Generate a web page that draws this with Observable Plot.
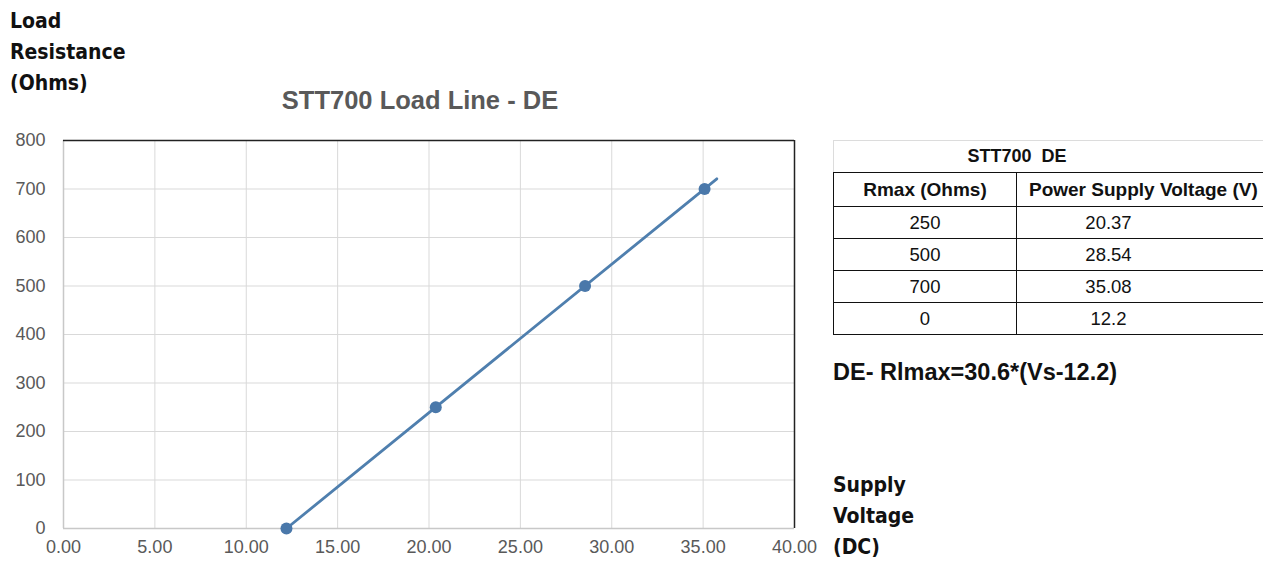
<!DOCTYPE html>
<html>
<head>
<meta charset="utf-8">
<script src="https://cdn.jsdelivr.net/npm/d3@7"></script>
<script src="https://cdn.jsdelivr.net/npm/@observablehq/plot@0.6"></script>
<style>
  html, body { margin: 0; padding: 0; background: #fff; }
  #wrap { position: relative; width: 1263px; height: 561px; overflow: hidden; }
  #chart { position: absolute; left: 0; top: 0; }
  .lbl { position: absolute; font-family: "DejaVu Sans Condensed", "DejaVu Sans", Verdana, sans-serif; font-stretch: condensed; font-weight: bold; font-size: 21px; line-height: 31px; color: #111; }
  #title { position: absolute; left: 0; width: 830px; text-align: center; top: 85px; font-family: "Liberation Sans", Arial, sans-serif; font-weight: bold; font-size: 25.5px; line-height: 30px; color: #595959; padding-left: 10px; box-sizing: border-box; }
  #tbl { position: absolute; left: 833px; top: 140px; border-collapse: collapse; table-layout: fixed; width: 443px; font-family: "Liberation Sans", Arial, sans-serif; font-size: 18.5px; color: #111; }
  #tbl td { text-align: center; padding: 0; white-space: nowrap; overflow: visible; }
  #tbl .cap td { border: 1px solid #dcdcdc; border-bottom: 1px solid #111; height: 31px; font-weight: bold; font-size: 18px; padding-right: 76px; }
  #tbl .row td { border: 1px solid #111; height: 31px; }
  #tbl .row td.c2 { padding-right: 76px; }
  #tbl .hdr td { font-weight: bold; font-size: 19px; height: 33px; }
  #tbl .hdr td.c2 { text-align: left; padding-left: 12px; padding-right: 0; }
  #eq { position: absolute; left: 833px; top: 358px; font-family: "Liberation Sans", Arial, sans-serif; font-weight: bold; font-size: 23.5px; line-height: 28px; color: #111; }
</style>
</head>
<body>
<div id="wrap">
  <div id="chart"></div>
  <div class="lbl" style="left:10px; top:6px;">Load<br>Resistance<br>(Ohms)</div>
  <div id="title"></div>
  <table id="tbl"></table>
  <div id="eq"></div>
  <div class="lbl" style="left:833px; top:470px;">Supply<br>Voltage<br>(DC)</div>
</div>
<script>
// Data
const resistance = [0, 250, 500, 700];          // Ohms
const voltage = [12.2, 20.37, 28.54, 35.08];    // V
const lineVoltage = [12.2, 35.75];              // drawn load line extent
const lineResistance = [0, 721];
const xTicks = [0, 5, 10, 15, 20, 25, 30, 35, 40];
const yTicks = [0, 100, 200, 300, 400, 500, 600, 700, 800];
const tableTitle = "STT700  DE";
const tableHeaders = ["Rmax (Ohms)", "Power Supply Voltage (V)"];
const tableR = [250, 500, 700, 0];
const tableV = ["20.37", "28.54", "35.08", "12.2"];
const chartTitle = "STT700 Load Line - DE";
const equation = "DE- Rlmax=30.6*(Vs-12.2)";

const points = resistance.map((r, i) => ({v: voltage[i], r}));
const line = lineVoltage.map((v, i) => ({v, r: lineResistance[i]}));

const plot = Plot.plot({
  width: 820,
  height: 561,
  marginLeft: 63,
  marginRight: 26,
  marginTop: 140,
  marginBottom: 33,
  style: {fontFamily: "'Liberation Sans', Arial, sans-serif", fontSize: "18px", color: "#595959", background: "#fff"},
  x: {domain: [0, 40], label: null},
  y: {domain: [0, 800], label: null},
  marks: [
    Plot.gridX(xTicks, {stroke: "#d9d9d9", strokeOpacity: 1, strokeWidth: 1}),
    Plot.gridY(yTicks, {stroke: "#d9d9d9", strokeOpacity: 1, strokeWidth: 1}),
    Plot.ruleX([0], {stroke: "#c8c8c8", strokeWidth: 1.5}),
    Plot.ruleY([0], {stroke: "#c8c8c8", strokeWidth: 1.5}),
    Plot.ruleY([800], {stroke: "#222", strokeWidth: 1.5}),
    Plot.ruleX([40], {stroke: "#222", strokeWidth: 1.5}),
    Plot.axisX({ticks: xTicks, tickFormat: d => d.toFixed(2), tickSize: 0, tickPadding: 12, fill: "#595959", fontSize: 18, label: null}),
    Plot.axisY({ticks: yTicks, tickSize: 0, tickPadding: 18, fill: "#595959", fontSize: 18, label: null}),
    Plot.line(line, {x: "v", y: "r", stroke: "#4f7fae", strokeWidth: 2.8}),
    Plot.dot(points, {x: "v", y: "r", r: 6, fill: "#4a78aa", stroke: "none"})
  ]
});
document.getElementById("chart").appendChild(plot);

document.getElementById("title").textContent = chartTitle;
document.getElementById("eq").textContent = equation;

const tbl = d3.select("#tbl");
const cg = tbl.append("colgroup");
cg.append("col").style("width", "183px");
cg.append("col").style("width", "260px");
tbl.append("tr").attr("class", "cap").append("td").attr("colspan", 2).text(tableTitle).style("white-space", "pre");
const hdr = tbl.append("tr").attr("class", "row hdr");
hdr.append("td").attr("class", "c1").text(tableHeaders[0]);
hdr.append("td").attr("class", "c2").text(tableHeaders[1]);
tableR.forEach((r, i) => {
  const tr = tbl.append("tr").attr("class", "row");
  tr.append("td").attr("class", "c1").text(r);
  tr.append("td").attr("class", "c2").text(tableV[i]);
});
</script>
</body>
</html>
